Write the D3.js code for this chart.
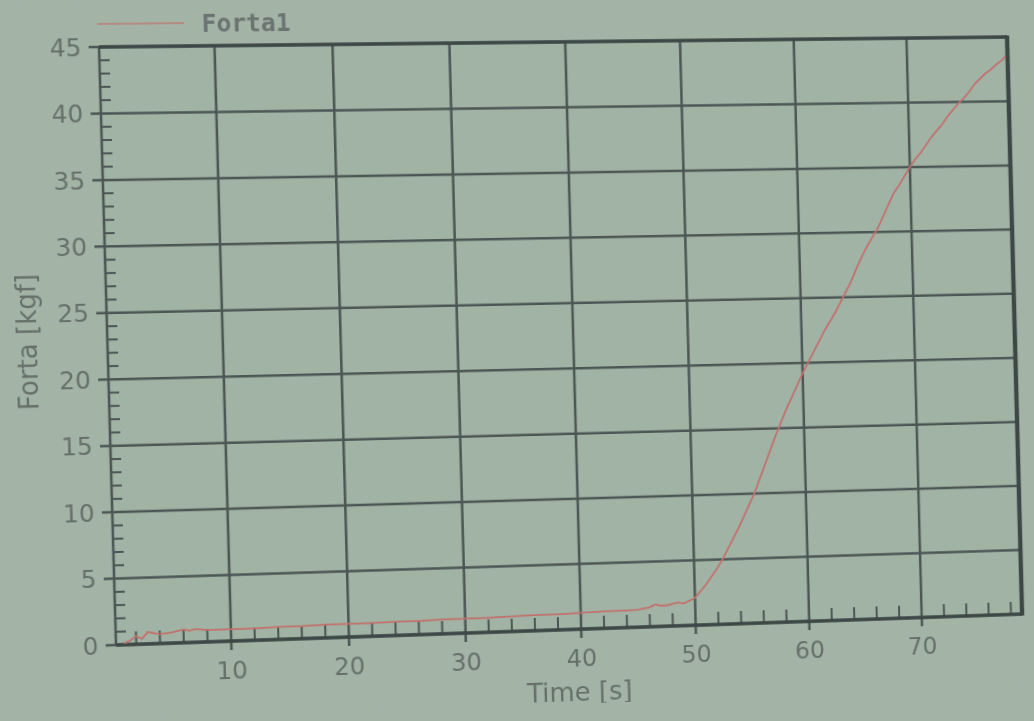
<!DOCTYPE html>
<html><head><meta charset="utf-8">
<script src="https://cdn.jsdelivr.net/npm/d3@7"></script>
<style>html,body{margin:0;padding:0;background:#a3b4a7;overflow:hidden;width:1034px;height:721px;}svg{display:block;transform-origin:0 0;}</style>
</head><body>
<script>
const seriesName = "Forta1";
const xLabel = "Time [s]";
const yLabel = "Forta [kgf]";
const xTicks = [10,20,30,40,50,60,70];
const yTicks = [0,5,10,15,20,25,30,35,40,45];
const time = [1,1.5,2,2.5,3,3.5,4,5,6,6.5,7,8,9,10,12,14,16,18,20,22,24,26,28,30,32,34,36,38,40,42,44,45,46,46.5,47,47.5,48,48.5,49,49.5,50,50.5,51,51.5,52,52.5,53,53.5,54,54.5,55,55.5,56,56.5,57,57.5,58,58.5,59,59.5,60,60.5,61,61.5,62,62.5,63,63.5,64,64.5,65,65.5,66,66.5,67,67.5,68,68.5,69,69.5,70,70.5,71,71.5,72,72.5,73,73.5,74,74.5,75,75.5,76,76.5,77,77.5,78,78.5,78.8];
const force = [0.1,0.3,0.6,0.4,0.9,0.8,0.7,0.8,1.0,0.9,1.0,0.9,0.9,0.9,0.9,0.95,0.95,1.0,1.0,1.0,1.05,1.05,1.1,1.1,1.1,1.15,1.2,1.2,1.25,1.3,1.3,1.35,1.5,1.7,1.6,1.6,1.7,1.8,1.7,1.9,2.1,2.6,3.1,3.7,4.3,5.0,5.8,6.6,7.4,8.3,9.2,10.1,11.2,12.3,13.4,14.5,15.5,16.5,17.4,18.3,19.2,20.0,20.8,21.6,22.4,23.1,23.8,24.6,25.4,26.2,27.2,28.1,28.9,29.6,30.3,31.2,32.1,33.0,33.6,34.3,35.0,35.6,36.1,36.7,37.3,37.8,38.3,38.9,39.4,39.9,40.3,40.8,41.4,41.8,42.2,42.5,42.9,43.2,43.5];
const xDomain = [0.3, 79.0];
const yDomain = [0, 45];

// photographed screen: where the plot's four corners appear
const OX = 100, OY = 47, W = 908, H = 598;
const screenCorners = [[99,47],[1007,37],[116,645],[1022,614]];

function homography(src, dst){
  const A = [], b = [];
  for(let i=0;i<4;i++){
    const [u,v] = src[i], [X,Y] = dst[i];
    A.push([u,v,1,0,0,0,-u*X,-v*X]); b.push(X);
    A.push([0,0,0,u,v,1,-u*Y,-v*Y]); b.push(Y);
  }
  const n = 8;
  for(let c=0;c<n;c++){
    let p = c;
    for(let r=c+1;r<n;r++) if(Math.abs(A[r][c])>Math.abs(A[p][c])) p=r;
    [A[c],A[p]] = [A[p],A[c]]; [b[c],b[p]] = [b[p],b[c]];
    for(let r=0;r<n;r++){
      if(r===c) continue;
      const f = A[r][c]/A[c][c];
      for(let k=c;k<n;k++) A[r][k]-=f*A[c][k];
      b[r]-=f*b[c];
    }
  }
  return b.map((v,i)=>v/A[i][i]);
}
const hh = homography([[OX,OY],[OX+W,OY],[OX,OY+H],[OX+W,OY+H]], screenCorners);
const [a,bb,c,d,e,f,g3,h3] = hh;

const svg = d3.select("body").append("svg").attr("width",1034).attr("height",721)
  .style("transform",`matrix3d(${a},${d},0,${g3},${bb},${e},0,${h3},0,0,1,0,${c},${f},0,1)`);
svg.append("rect").attr("x",-200).attr("y",-200).attr("width",1434).attr("height",1121).attr("fill","#a3b4a7");
svg.append("defs").append("filter").attr("id","blur").append("feGaussianBlur").attr("stdDeviation",0.7);

const gr = svg.append("g").attr("transform",`translate(${OX},${OY})`).attr("filter","url(#blur)");
const x = d3.scaleLinear().domain(xDomain).range([0,W]);
const y = d3.scaleLinear().domain(yDomain).range([H,0]);

gr.append("rect").attr("width",W).attr("height",H).attr("fill","#a1b3a5");

const gridC = "#4b5654", textC = "#657069", frameC = "#3d4645";
gr.selectAll(".vg").data(xTicks).join("line")
  .attr("x1",v=>x(v)).attr("x2",v=>x(v)).attr("y1",0).attr("y2",H+9)
  .attr("stroke",gridC).attr("stroke-width",2.5);
gr.selectAll(".hg").data(yTicks).join("line")
  .attr("x1",-10).attr("x2",W).attr("y1",v=>y(v)).attr("y2",v=>y(v))
  .attr("stroke",gridC).attr("stroke-width",2.5);

const yMinor = d3.range(1,45).filter(v=>v%5!==0);
gr.selectAll(".ym").data(yMinor).join("line")
  .attr("x1",0).attr("x2",10).attr("y1",v=>y(v)).attr("y2",v=>y(v))
  .attr("stroke",gridC).attr("stroke-width",2);
const xMinor = d3.range(2,80,2).filter(v=>v%10!==0);
gr.selectAll(".xm").data(xMinor).join("line")
  .attr("x1",v=>x(v)).attr("x2",v=>x(v)).attr("y1",H).attr("y2",H-13)
  .attr("stroke",gridC).attr("stroke-width",2);

gr.append("line").attr("x1",0).attr("x2",0).attr("y1",0).attr("y2",H).attr("stroke",gridC).attr("stroke-width",2.5);
gr.append("line").attr("x1",0).attr("x2",W).attr("y1",0).attr("y2",0).attr("stroke",frameC).attr("stroke-width",3.5);
gr.append("line").attr("x1",W).attr("x2",W).attr("y1",-1.5).attr("y2",H+1.5).attr("stroke",frameC).attr("stroke-width",4.5);
gr.append("line").attr("x1",0).attr("x2",W).attr("y1",H).attr("y2",H).attr("stroke",frameC).attr("stroke-width",3.5);

const pts = time.map((t,i)=>[t,force[i]]);
gr.append("path").datum(pts)
  .attr("d",d3.line().x(p=>x(p[0])).y(p=>y(p[1])))
  .attr("fill","none").attr("stroke","#c2706c").attr("stroke-width",1.8);

gr.selectAll(".yl").data(yTicks).join("text")
  .attr("x",-17).attr("y",v=>y(v)).attr("dy","0.36em").attr("text-anchor","end")
  .attr("font-family","DejaVu Sans").attr("font-size",24).attr("fill",textC).text(v=>v);
gr.selectAll(".xl").data(xTicks).join("text")
  .attr("x",v=>x(v)).attr("y",H+38).attr("text-anchor","middle")
  .attr("font-family","DejaVu Sans").attr("font-size",24).attr("fill",textC).text(v=>v);

gr.append("text").attr("transform",`translate(-77,293) rotate(-90)`).attr("text-anchor","middle").attr("dy","0.35em")
  .attr("font-family","DejaVu Sans").attr("font-size",26).attr("fill",textC).text(yLabel);
gr.append("text").attr("x",455).attr("y",H+73).attr("text-anchor","middle")
  .attr("font-family","DejaVu Sans").attr("font-size",26).attr("fill",textC).text(xLabel);

gr.append("line").attr("x1",-1).attr("x2",83).attr("y1",-23).attr("y2",-23).attr("stroke","#b58a80").attr("stroke-width",2);
gr.append("text").attr("x",100).attr("y",-14).attr("font-family","DejaVu Sans Mono").attr("font-weight","bold").attr("font-size",24)
  .attr("fill","#6a7370").text(seriesName);
</script>
</body></html>
